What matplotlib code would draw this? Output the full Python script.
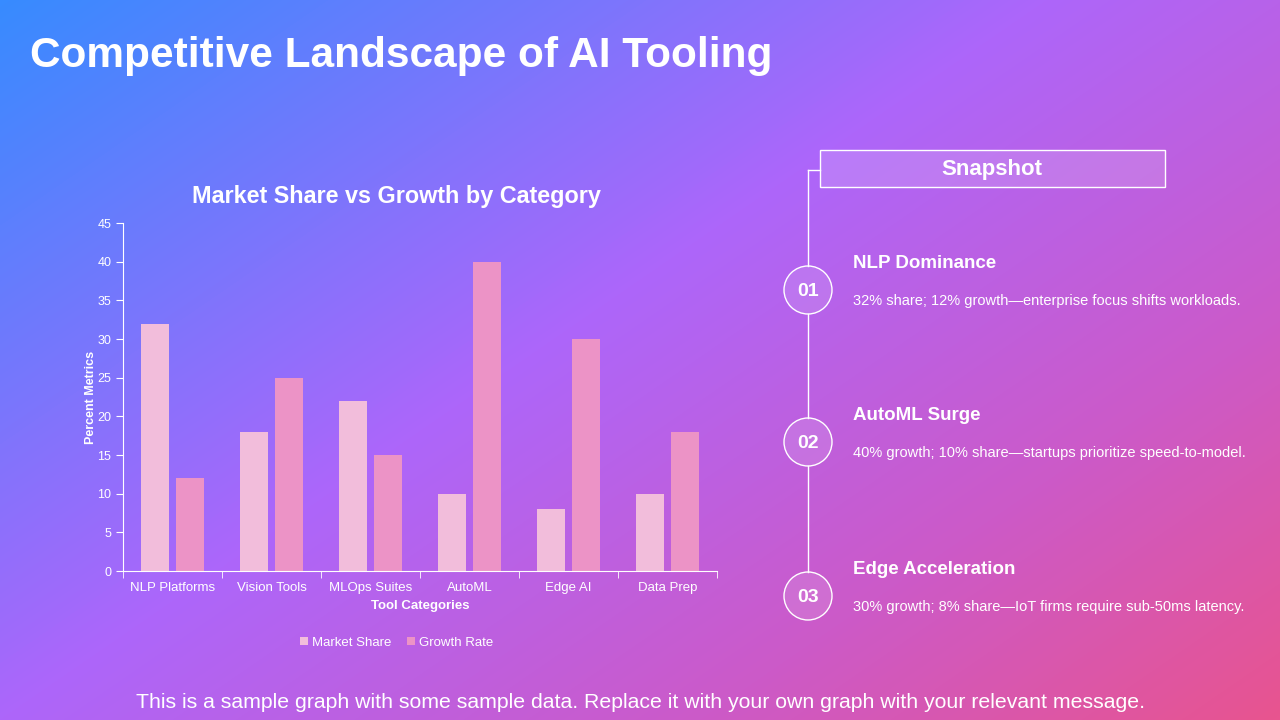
import numpy as np
import matplotlib
matplotlib.use("Agg")
import matplotlib.pyplot as plt
from matplotlib.colors import LinearSegmentedColormap
from matplotlib.patches import Rectangle, Circle
from matplotlib.lines import Line2D

plt.rcParams['font.family'] = ['Liberation Sans', 'DejaVu Sans']

categories = ["NLP Platforms", "Vision Tools", "MLOps Suites", "AutoML", "Edge AI", "Data Prep"]
market_share = [32, 18, 22, 10, 8, 10]
growth_rate = [12, 25, 15, 40, 30, 18]
series_names = ["Market Share", "Growth Rate"]

points = ["01", "02", "03"]
headings = ["NLP Dominance", "AutoML Surge", "Edge Acceleration"]
details = [
    "32% share; 12% growth\u2014enterprise focus shifts workloads.",
    "40% growth; 10% share\u2014startups prioritize speed-to-model.",
    "30% growth; 8% share\u2014IoT firms require sub-50ms latency.",
]

W, H = 1280, 720
fig = plt.figure(figsize=(12.8, 7.2), dpi=100)

# gradient background: blue top-left -> purple -> pink bottom-right
bg = fig.add_axes([0, 0, 1, 1])
bg.set_axis_off()
yy, xx = np.mgrid[0:H, 0:W]
t = (xx / W * 0.55 + yy / H * 0.45)
cmap = LinearSegmentedColormap.from_list(
    "bgc", [(0.0, "#378bff"), (0.45, "#ad66fa"), (0.75, "#cc5ac8"), (1.0, "#e8548f")])
bg.imshow(t, cmap=cmap, aspect="auto", extent=[0, W, H, 0], vmin=0, vmax=1)
bg.set_xlim(0, W)
bg.set_ylim(H, 0)

bg.text(30, 56, "Competitive Landscape of AI Tooling", color="white",
        fontsize=30.5, fontweight="bold", va="center", ha="left")
bg.text(640, 703, "This is a sample graph with some sample data. Replace it with your own graph with your relevant message.",
        color="white", fontsize=15.3, ha="center", va="center")
bg.text(396, 196, "Market Share vs Growth by Category", color="white", fontsize=16.8,
        fontweight="bold", ha="center", va="center")

# right panel
R = 24
ys = [290, 442, 596]
bg.add_line(Line2D([808, 820], [170, 170], color="white", lw=1))
prev = 170
for y in ys:
    bg.add_line(Line2D([808, 808], [prev, y - R], color="white", lw=1))
    prev = y + R
bg.add_patch(Rectangle((820, 150), 345, 37, facecolor=(1, 1, 1, 0.15),
                       edgecolor="white", lw=1))
bg.text(992, 169, "Snapshot", color="white", fontsize=16, fontweight="bold",
        ha="center", va="center")
for i in range(len(points)):
    y = ys[i]
    bg.add_patch(Circle((808, y), R, facecolor=(1, 1, 1, 0.12), edgecolor="white", lw=1, zorder=3))
    bg.text(808, y + 1, points[i], color="white", fontsize=14, fontweight="bold",
            ha="center", va="center", zorder=4)
    bg.text(853, y - 27, headings[i], color="white", fontsize=13.5, fontweight="bold",
            ha="left", va="center")
    bg.text(853, y + 11, details[i], color="white", fontsize=10.5,
            ha="left", va="center")

# bar chart
ax = fig.add_axes([123 / W, 1 - 571 / H, (717 - 123) / W, (571 - 223) / H])
ax.patch.set_alpha(0)
x = np.arange(len(categories))
ax.bar(x - 0.18, market_share, 0.28, color="#f2bddb", label=series_names[0])
ax.bar(x + 0.18, growth_rate, 0.28, color="#ec93c6", label=series_names[1])
ax.set_xlim(-0.5, len(categories) - 0.5)
ax.set_ylim(0, 45)
ax.set_yticks(range(0, 46, 5))
ax.set_xticks(x)
ax.set_xticklabels(categories)
ax.set_xticks(np.arange(-0.5, len(categories)), minor=True)
ax.tick_params(axis="x", which="major", length=0, colors="white", labelsize=9.5, pad=8)
ax.tick_params(axis="x", which="minor", length=5, color="white", direction="out")
ax.tick_params(axis="y", colors="white", labelsize=9, length=5, direction="out")
for s in ["top", "right"]:
    ax.spines[s].set_visible(False)
for s in ["left", "bottom"]:
    ax.spines[s].set_color("white")
ax.set_xlabel("Tool Categories", color="white", fontsize=9.5, fontweight="bold", labelpad=4)
ax.set_ylabel("Percent Metrics", color="white", fontsize=9, fontweight="bold", labelpad=0)
leg = ax.legend(loc="upper center", bbox_to_anchor=(0.46, -0.155), ncol=2, frameon=False,
                fontsize=9.5, handlelength=0.6, handleheight=0.6, handletextpad=0.3,
                columnspacing=1.2)
for txt in leg.get_texts():
    txt.set_color("white")

fig.savefig("out.png", dpi=100)
